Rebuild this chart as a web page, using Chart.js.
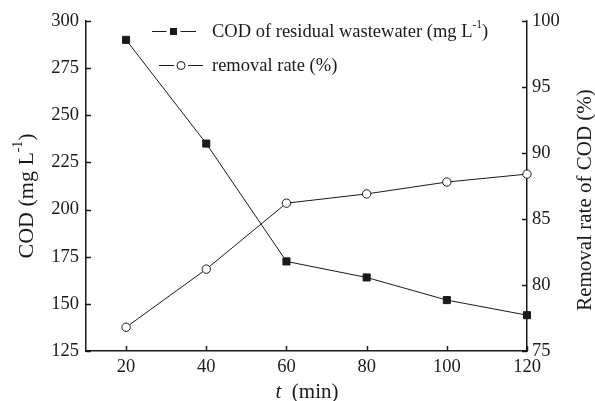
<!DOCTYPE html>
<html>
<head>
<meta charset="utf-8">
<script src="https://cdn.jsdelivr.net/npm/chart.js@4"></script>
<style>
  html, body { margin: 0; padding: 0; background: #fff; }
  #wrap { width: 595px; height: 401px; }
</style>
</head>
<body>
<div id="wrap"><canvas id="codChart" width="595" height="401"></canvas></div>
<script>
// reaction time (min)
const times = [20, 40, 60, 80, 100, 120];
// COD of residual wastewater (mg/L)
const codValues = [290, 235, 172.5, 164, 152, 144];
// removal rate of COD (%)
const removalRates = [76.8, 81.2, 86.2, 86.9, 87.8, 88.4];

const xTicks = [20, 40, 60, 80, 100, 120];
const codTicks = [125, 150, 175, 200, 225, 250, 275, 300];
const rateTicks = [75, 80, 85, 90, 95, 100];

const SERIF = "'Liberation Serif', 'DejaVu Serif', serif";
const INK = "#1a1a1a";
const TICK_SIZE = 18.5;

function pts(values) {
  return times.map((t, i) => ({ x: t, y: values[i] }));
}

// inward tick marks on left, right and bottom axes
const tickMarks = {
  id: "tickMarks",
  afterDraw(chart) {
    const ctx = chart.ctx;
    const area = chart.chartArea;
    const len = 5;
    ctx.save();
    ctx.strokeStyle = INK;
    ctx.lineWidth = 1.5;
    ctx.beginPath();
    xTicks.forEach((v) => {
      const px = Math.round(chart.scales.x.getPixelForValue(v)) + 0.5;
      ctx.moveTo(px, area.bottom);
      ctx.lineTo(px, area.bottom - len);
    });
    codTicks.forEach((v) => {
      const py = Math.round(chart.scales.y.getPixelForValue(v)) + 0.5;
      ctx.moveTo(area.left, py);
      ctx.lineTo(area.left + len, py);
    });
    rateTicks.forEach((v) => {
      const py = Math.round(chart.scales.y1.getPixelForValue(v)) + 0.5;
      ctx.moveTo(area.right, py);
      ctx.lineTo(area.right - len, py);
    });
    ctx.stroke();
    ctx.restore();
  },
};

// draws text pieces in a row; pieces flagged sup are raised and smaller
function drawRich(ctx, parts, x, y, size, align) {
  const fontFor = (p) => (p.italic ? "italic " : "") + (p.sup ? size * 0.62 : size) + "px " + SERIF;
  const widths = parts.map((p) => {
    ctx.font = fontFor(p);
    return ctx.measureText(p.text).width;
  });
  const total = widths.reduce((a, b) => a + b, 0);
  let cx = align === "center" ? x - total / 2 : x;
  parts.forEach((p, i) => {
    ctx.font = fontFor(p);
    ctx.fillText(p.text, cx, p.sup ? y - size * 0.38 : y);
    cx += widths[i];
  });
}

// legend sample: two short line pieces with a gap around the marker
function legendLine(ctx, x0, x1, cx, gap, y) {
  ctx.beginPath();
  ctx.moveTo(x0, y);
  ctx.lineTo(cx - gap, y);
  ctx.moveTo(cx + gap, y);
  ctx.lineTo(x1, y);
  ctx.stroke();
}

// legend and axis titles
const annotations = {
  id: "annotations",
  afterDraw(chart) {
    const ctx = chart.ctx;
    ctx.save();
    ctx.fillStyle = INK;
    ctx.strokeStyle = INK;
    ctx.textBaseline = "middle";
    ctx.textAlign = "left";

    // legend entry 1: filled square
    ctx.lineWidth = 1;
    legendLine(ctx, 152, 196, 173.5, 7, 31.5);
    ctx.fillRect(170, 28, 7, 7);
    drawRich(ctx, [
      { text: "COD of residual wastewater (mg L" },
      { text: "-1", sup: true },
      { text: ")" },
    ], 212, 32, 18.5, "left");

    // legend entry 2: open circle
    legendLine(ctx, 159, 203, 181, 7, 65.5);
    ctx.beginPath();
    ctx.arc(181, 65.5, 4, 0, Math.PI * 2);
    ctx.fillStyle = "#fff";
    ctx.fill();
    ctx.stroke();
    ctx.fillStyle = INK;
    drawRich(ctx, [{ text: "removal rate (%)" }], 212, 66, 18.5, "left");

    // x title
    drawRich(ctx, [
      { text: "t", italic: true },
      { text: "  (min)" },
    ], 307, 392, 21, "center");

    // left y title
    ctx.save();
    ctx.translate(27, 196);
    ctx.rotate(-Math.PI / 2);
    drawRich(ctx, [
      { text: "COD (mg L" },
      { text: "-1", sup: true },
      { text: ")" },
    ], 0, 0, 22, "center");
    ctx.restore();

    // right y title
    ctx.save();
    ctx.translate(585, 200);
    ctx.rotate(-Math.PI / 2);
    drawRich(ctx, [{ text: "Removal rate of COD (%)" }], 0, 0, 21, "center");
    ctx.restore();

    ctx.restore();
  },
};

new Chart(document.getElementById("codChart"), {
  type: "line",
  data: {
    datasets: [
      {
        label: "COD of residual wastewater (mg L-1)",
        data: pts(codValues),
        yAxisID: "y",
        borderColor: INK,
        borderWidth: 1,
        backgroundColor: INK,
        pointStyle: "rect",
        pointRadius: 5,
        pointBorderWidth: 1,
        tension: 0,
      },
      {
        label: "removal rate (%)",
        data: pts(removalRates),
        yAxisID: "y1",
        borderColor: INK,
        borderWidth: 1,
        backgroundColor: "#fff",
        pointStyle: "circle",
        pointRadius: 4.2,
        pointBorderWidth: 1,
        tension: 0,
      },
    ],
  },
  options: {
    responsive: false,
    animation: false,
    clip: false,
    layout: { padding: { top: 21, left: 0, right: 0, bottom: 0 } },
    plugins: {
      legend: { display: false },
      tooltip: { enabled: false },
    },
    scales: {
      x: {
        type: "linear",
        min: 10,
        max: 120,
        afterBuildTicks: (s) => { s.ticks = xTicks.map((v) => ({ value: v })); },
        afterFit: (s) => { s.height = 50; },
        grid: { display: false, drawTicks: false },
        border: { display: true, color: INK, width: 1.5 },
        ticks: {
          color: INK,
          padding: 5,
          maxRotation: 0,
          font: { family: SERIF, size: TICK_SIZE },
        },
      },
      y: {
        position: "left",
        min: 125,
        max: 300,
        afterBuildTicks: (s) => { s.ticks = codTicks.map((v) => ({ value: v })); },
        afterFit: (s) => { s.width = 86; },
        grid: { display: false, drawTicks: false },
        border: { display: true, color: INK, width: 1.5 },
        ticks: {
          color: INK,
          padding: 7,
          font: { family: SERIF, size: TICK_SIZE },
        },
      },
      y1: {
        position: "right",
        min: 75,
        max: 100,
        afterBuildTicks: (s) => { s.ticks = rateTicks.map((v) => ({ value: v })); },
        afterFit: (s) => { s.width = 68; },
        grid: { display: false, drawTicks: false },
        border: { display: true, color: INK, width: 1.5 },
        ticks: {
          color: INK,
          padding: 5,
          font: { family: SERIF, size: TICK_SIZE },
        },
      },
    },
  },
  plugins: [tickMarks, annotations],
});
</script>
</body>
</html>
